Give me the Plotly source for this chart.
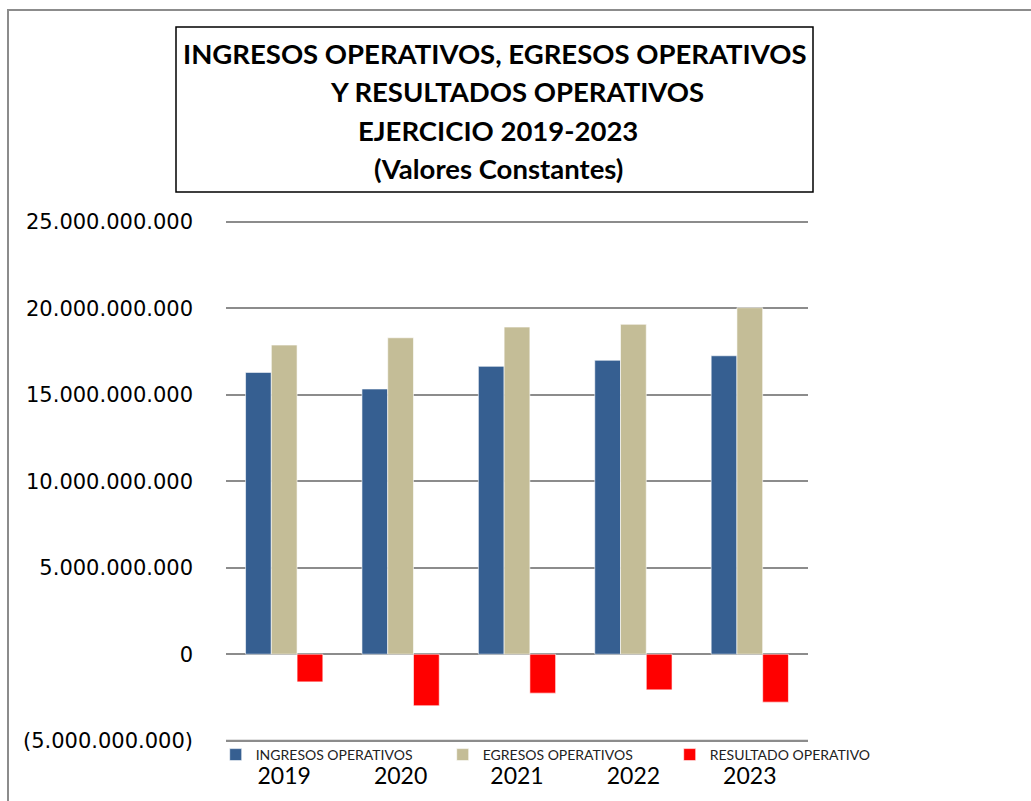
import plotly.graph_objects as go

# Operating income, operating expenses and operating result, 2019-2023 (constant values)
years = ["2019", "2020", "2021", "2022", "2023"]
ingresos = [16.29e9, 15.33e9, 16.64e9, 16.99e9, 17.25e9]
egresos = [17.87e9, 18.29e9, 18.91e9, 19.07e9, 20.03e9]
resultado = [-1.60e9, -2.98e9, -2.25e9, -2.06e9, -2.77e9]

series_names = ["INGRESOS OPERATIVOS", "EGRESOS OPERATIVOS", "RESULTADO OPERATIVO"]
series_colors = ["#365F91", "#C4BD97", "#FF0000"]

y_tickvals = [-5e9, 0, 5e9, 10e9, 15e9, 20e9, 25e9]
y_ticktext = ["(5.000.000.000)", "0", "5.000.000.000", "10.000.000.000",
              "15.000.000.000", "20.000.000.000", "25.000.000.000"]

title_lines = [
    "INGRESOS OPERATIVOS, EGRESOS OPERATIVOS",
    "Y RESULTADOS OPERATIVOS",
    "EJERCICIO 2019-2023",
    "(Valores Constantes)",
]

SANS = "Lato, Open Sans, sans-serif"
GRID = "#8C8C8C"

# plot area in page pixels (range padded a little so the end gridlines stay visible)
PL, PR, PT, PB = 226, 808, 220, 746
W, H = 1031, 801
Y_RANGE = [-5.306e9, 25.098e9]


def px_x(px):
    return (px - PL) / (PR - PL)


def px_y(py):
    return (PB - py) / (PB - PT)


def val_to_paper(v):
    return (v - Y_RANGE[0]) / (Y_RANGE[1] - Y_RANGE[0])


fig = go.Figure()
for name, vals, col in zip(series_names, [ingresos, egresos, resultado], series_colors):
    fig.add_trace(go.Bar(
        x=years, y=vals, name=name,
        marker=dict(color=col, line=dict(color="rgba(255,255,255,0.6)", width=1)),
    ))

fig.update_layout(
    width=W, height=H,
    margin=dict(l=PL, r=W - PR, t=PT, b=H - PB, autoexpand=False),
    paper_bgcolor="white", plot_bgcolor="white",
    barmode="group", bargap=0.336, bargroupgap=0,
    showlegend=True,
    legend=dict(
        orientation="h",
        x=px_x(215.7), xanchor="left", y=px_y(755), yanchor="middle",
        font=dict(family=SANS, size=14, color="#222"),
        entrywidth=182, entrywidthmode="pixels",
        itemwidth=30, bgcolor="rgba(255,255,255,0)", borderwidth=0,
    ),
    xaxis=dict(
        showgrid=False, showline=False, zeroline=False, automargin=False,
        ticks="", ticklabelstandoff=14,
        tickfont=dict(family=SANS, size=23, color="black"),
    ),
    yaxis=dict(
        range=Y_RANGE, tickvals=y_tickvals, ticktext=y_ticktext,
        showgrid=True, gridcolor=GRID, gridwidth=2,
        zeroline=True, zerolinecolor=GRID, zerolinewidth=2,
        showline=False, ticks="", ticklabelstandoff=32, automargin=False,
        tickfont=dict(family="DejaVu Sans", size=21, color="black"),
    ),
)

# bottom gridline at the lowest tick (unclipped paper shape)
y_low = val_to_paper(y_tickvals[0])
fig.add_shape(type="line", xref="paper", yref="paper",
              x0=0, x1=1, y0=y_low, y1=y_low,
              line=dict(color=GRID, width=2), layer="above")

# outer chart frame (runs past the right and bottom page edges)
fig.add_shape(type="rect", xref="paper", yref="paper",
              x0=px_x(8), x1=px_x(1040), y0=px_y(810), y1=px_y(10),
              line=dict(color=GRID, width=2), fillcolor="rgba(0,0,0,0)", layer="below")

# title box
fig.add_shape(type="rect", xref="paper", yref="paper",
              x0=px_x(176), x1=px_x(813), y0=px_y(192), y1=px_y(27),
              line=dict(color="black", width=1.5), fillcolor="white")

title_pos = [(494.5, 53), (517, 91), (498, 130), (498.5, 169)]
for text, (px, py) in zip(title_lines, title_pos):
    fig.add_annotation(
        text=f"<b>{text}</b>", xref="paper", yref="paper",
        x=px_x(px), y=px_y(py),
        xanchor="center", yanchor="middle", showarrow=False,
        font=dict(family=SANS, size=27.5, color="black"),
    )

fig.write_html("out.html")
